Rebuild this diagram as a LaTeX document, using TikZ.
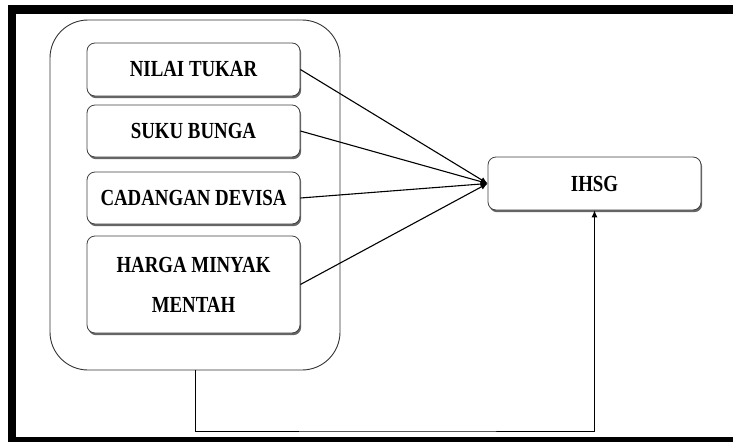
\documentclass[tikz,border=0pt]{standalone}
\usepackage{fontspec}
\setmainfont{Liberation Serif}
\newfontfamily\boxfont{Liberation Serif}[FakeStretch=0.82]
\usetikzlibrary{positioning, arrows.meta, shadows}

\begin{document}
\begin{tikzpicture}[x=1pt, y=-1pt, >={Latex[length=7pt, width=6pt]},
    varbox/.style={draw=black!75, line width=0.8pt, rounded corners=8pt, fill=white,
                   minimum width=213pt, font=\boxfont\fontsize{23}{27}\selectfont\bfseries,
                   align=center, inner sep=2pt,
                   drop shadow={shadow xshift=1.2pt, shadow yshift=-2.2pt, fill=black!60, opacity=1}},
    linkline/.style={->, line width=1.1pt}]
  \useasboundingbox (0,0) rectangle (733,442);
  % frame
  \fill (8,5) rectangle (733,14);
  \fill (8,5) rectangle (16,442);
  \fill (8,437) rectangle (733,442);

  % independent variables
  \node[draw=black!80, line width=0.9pt, rounded corners=38pt, minimum width=290pt,
        minimum height=350pt] (grp) at (195,195) {};
  \node[varbox, minimum height=53pt] (tukar) at (193.5,69.5) {NILAI TUKAR};
  \node[varbox, minimum height=52pt] (bunga) at (193.5,131) {SUKU BUNGA};
  \node[varbox, minimum height=52pt] (devisa) at (193.5,198) {CADANGAN DEVISA};
  \node[varbox, minimum height=97pt] (minyak) at (193.5,284.5) {HARGA MINYAK\\[13pt]MENTAH};

  % dependent variable
  \node[varbox, minimum height=53pt, drop shadow={opacity=0}] (ihsg) at (594.5,183.5) {IHSG};

  \coordinate (low) at (400,431);
  \draw[linkline] (tukar.east) -- (ihsg.west);
  \draw[linkline] (bunga.east) -- (ihsg.west);
  \draw[linkline] (devisa.east) -- (ihsg.west);
  \draw[linkline] (minyak.east) -- (ihsg.west);
  \draw[->, line width=0.9pt] (grp.south) |- (low) -| (ihsg.south);
\end{tikzpicture}
\end{document}
